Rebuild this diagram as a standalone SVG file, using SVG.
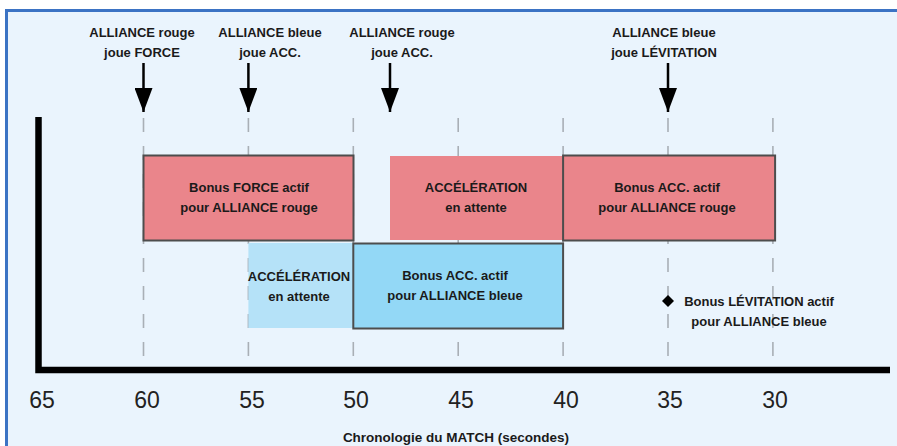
<svg xmlns="http://www.w3.org/2000/svg" width="897" height="446" viewBox="0 0 897 446">
<style>
.t{font-family:"Liberation Sans",Arial,sans-serif;font-weight:bold;font-size:13px;fill:#1a1a1a;text-anchor:middle}
.num{font-family:"Liberation Sans",Arial,sans-serif;font-size:23px;fill:#222;text-anchor:middle}
.grid{stroke:#a9afb6;stroke-width:1.6;stroke-dasharray:14 14;fill:none}
.red{fill:#EA858B}
.blue{fill:#93D8F6}
.lblue{fill:#B5E2F8}
.bd{stroke:#4d4d4d;stroke-width:2}
.arr{stroke:#000;stroke-width:2.5;fill:none}
</style>
<defs>
<marker id="ah" viewBox="0 0 24 18" markerWidth="24" markerHeight="18" refX="24" refY="9" orient="auto" markerUnits="userSpaceOnUse">
<path d="M0,0 L24,9 L0,18 z" fill="#000"/>
</marker>
</defs>
<rect x="6.5" y="10.5" width="900" height="450" fill="#EAF4FD" stroke="#3B73C4" stroke-width="3"/>
<g id="grid">
<line class="grid" x1="143.5" y1="118" x2="143.5" y2="357"/>
<line class="grid" x1="248.4" y1="118" x2="248.4" y2="357"/>
<line class="grid" x1="353.3" y1="118" x2="353.3" y2="357"/>
<line class="grid" x1="458.2" y1="118" x2="458.2" y2="357"/>
<line class="grid" x1="563.1" y1="118" x2="563.1" y2="357"/>
<line class="grid" x1="668" y1="118" x2="668" y2="357"/>
<line class="grid" x1="772.9" y1="118" x2="772.9" y2="357"/>
</g>
<g id="axes">
<path d="M38.5,117 V370 H890" stroke="#000" stroke-width="6.5" fill="none"/>
</g>
<g id="ticks">
<text class="num" x="42" y="408">65</text>
<text class="num" x="147" y="408">60</text>
<text class="num" x="252" y="408">55</text>
<text class="num" x="356" y="408">50</text>
<text class="num" x="461" y="408">45</text>
<text class="num" x="566" y="408">40</text>
<text class="num" x="670" y="408">35</text>
<text class="num" x="775" y="408">30</text>
<text class="t" x="456" y="442" style="font-size:13.5px">Chronologie du MATCH (secondes)</text>
</g>
<g id="force-rouge">
<rect class="red bd" x="143.5" y="155.5" width="210" height="85"/>
<text class="t" x="249" y="192">Bonus FORCE actif</text>
<text class="t" x="249" y="212">pour ALLIANCE rouge</text>
</g>
<g id="acc-attente-rouge">
<rect class="red" x="390" y="156" width="173" height="84"/>
<text class="t" x="476" y="192">ACCÉLÉRATION</text>
<text class="t" x="476" y="212">en attente</text>
</g>
<g id="acc-actif-rouge">
<rect class="red bd" x="563.1" y="155.5" width="212" height="85"/>
<text class="t" x="667" y="192">Bonus ACC. actif</text>
<text class="t" x="667" y="212">pour ALLIANCE rouge</text>
</g>
<g id="acc-attente-bleue">
<rect class="lblue" x="248.4" y="243" width="105" height="85"/>
<text class="t" x="299" y="281">ACCÉLÉRATION</text>
<text class="t" x="299" y="301">en attente</text>
</g>
<g id="acc-actif-bleue">
<rect class="blue bd" x="353.3" y="243.5" width="209.8" height="85"/>
<text class="t" x="455" y="280">Bonus ACC. actif</text>
<text class="t" x="455" y="300">pour ALLIANCE bleue</text>
</g>
<g id="levitation">
<path d="M668,295 L674,301 L668,307 L662,301 z" fill="#000"/>
<text class="t" x="759" y="306">Bonus LÉVITATION actif</text>
<text class="t" x="759" y="326">pour ALLIANCE bleue</text>
</g>
<g id="event-force">
<text class="t" x="142" y="37">ALLIANCE rouge</text>
<text class="t" x="142" y="57">joue FORCE</text>
</g>
<g id="event-acc-bleue">
<text class="t" x="270" y="37">ALLIANCE bleue</text>
<text class="t" x="270" y="57">joue ACC.</text>
</g>
<g id="event-acc-rouge">
<text class="t" x="402" y="37">ALLIANCE rouge</text>
<text class="t" x="402" y="57">joue ACC.</text>
</g>
<g id="event-levitation">
<text class="t" x="664" y="37">ALLIANCE bleue</text>
<text class="t" x="664" y="57">joue LÉVITATION</text>
</g>
<g id="connectors">
<line class="arr" x1="143.5" y1="63" x2="143.5" y2="112" marker-end="url(#ah)"/>
<line class="arr" x1="248.4" y1="63" x2="248.4" y2="112" marker-end="url(#ah)"/>
<line class="arr" x1="390" y1="63" x2="390" y2="112" marker-end="url(#ah)"/>
<line class="arr" x1="668" y1="63" x2="668" y2="112" marker-end="url(#ah)"/>
</g>
</svg>
